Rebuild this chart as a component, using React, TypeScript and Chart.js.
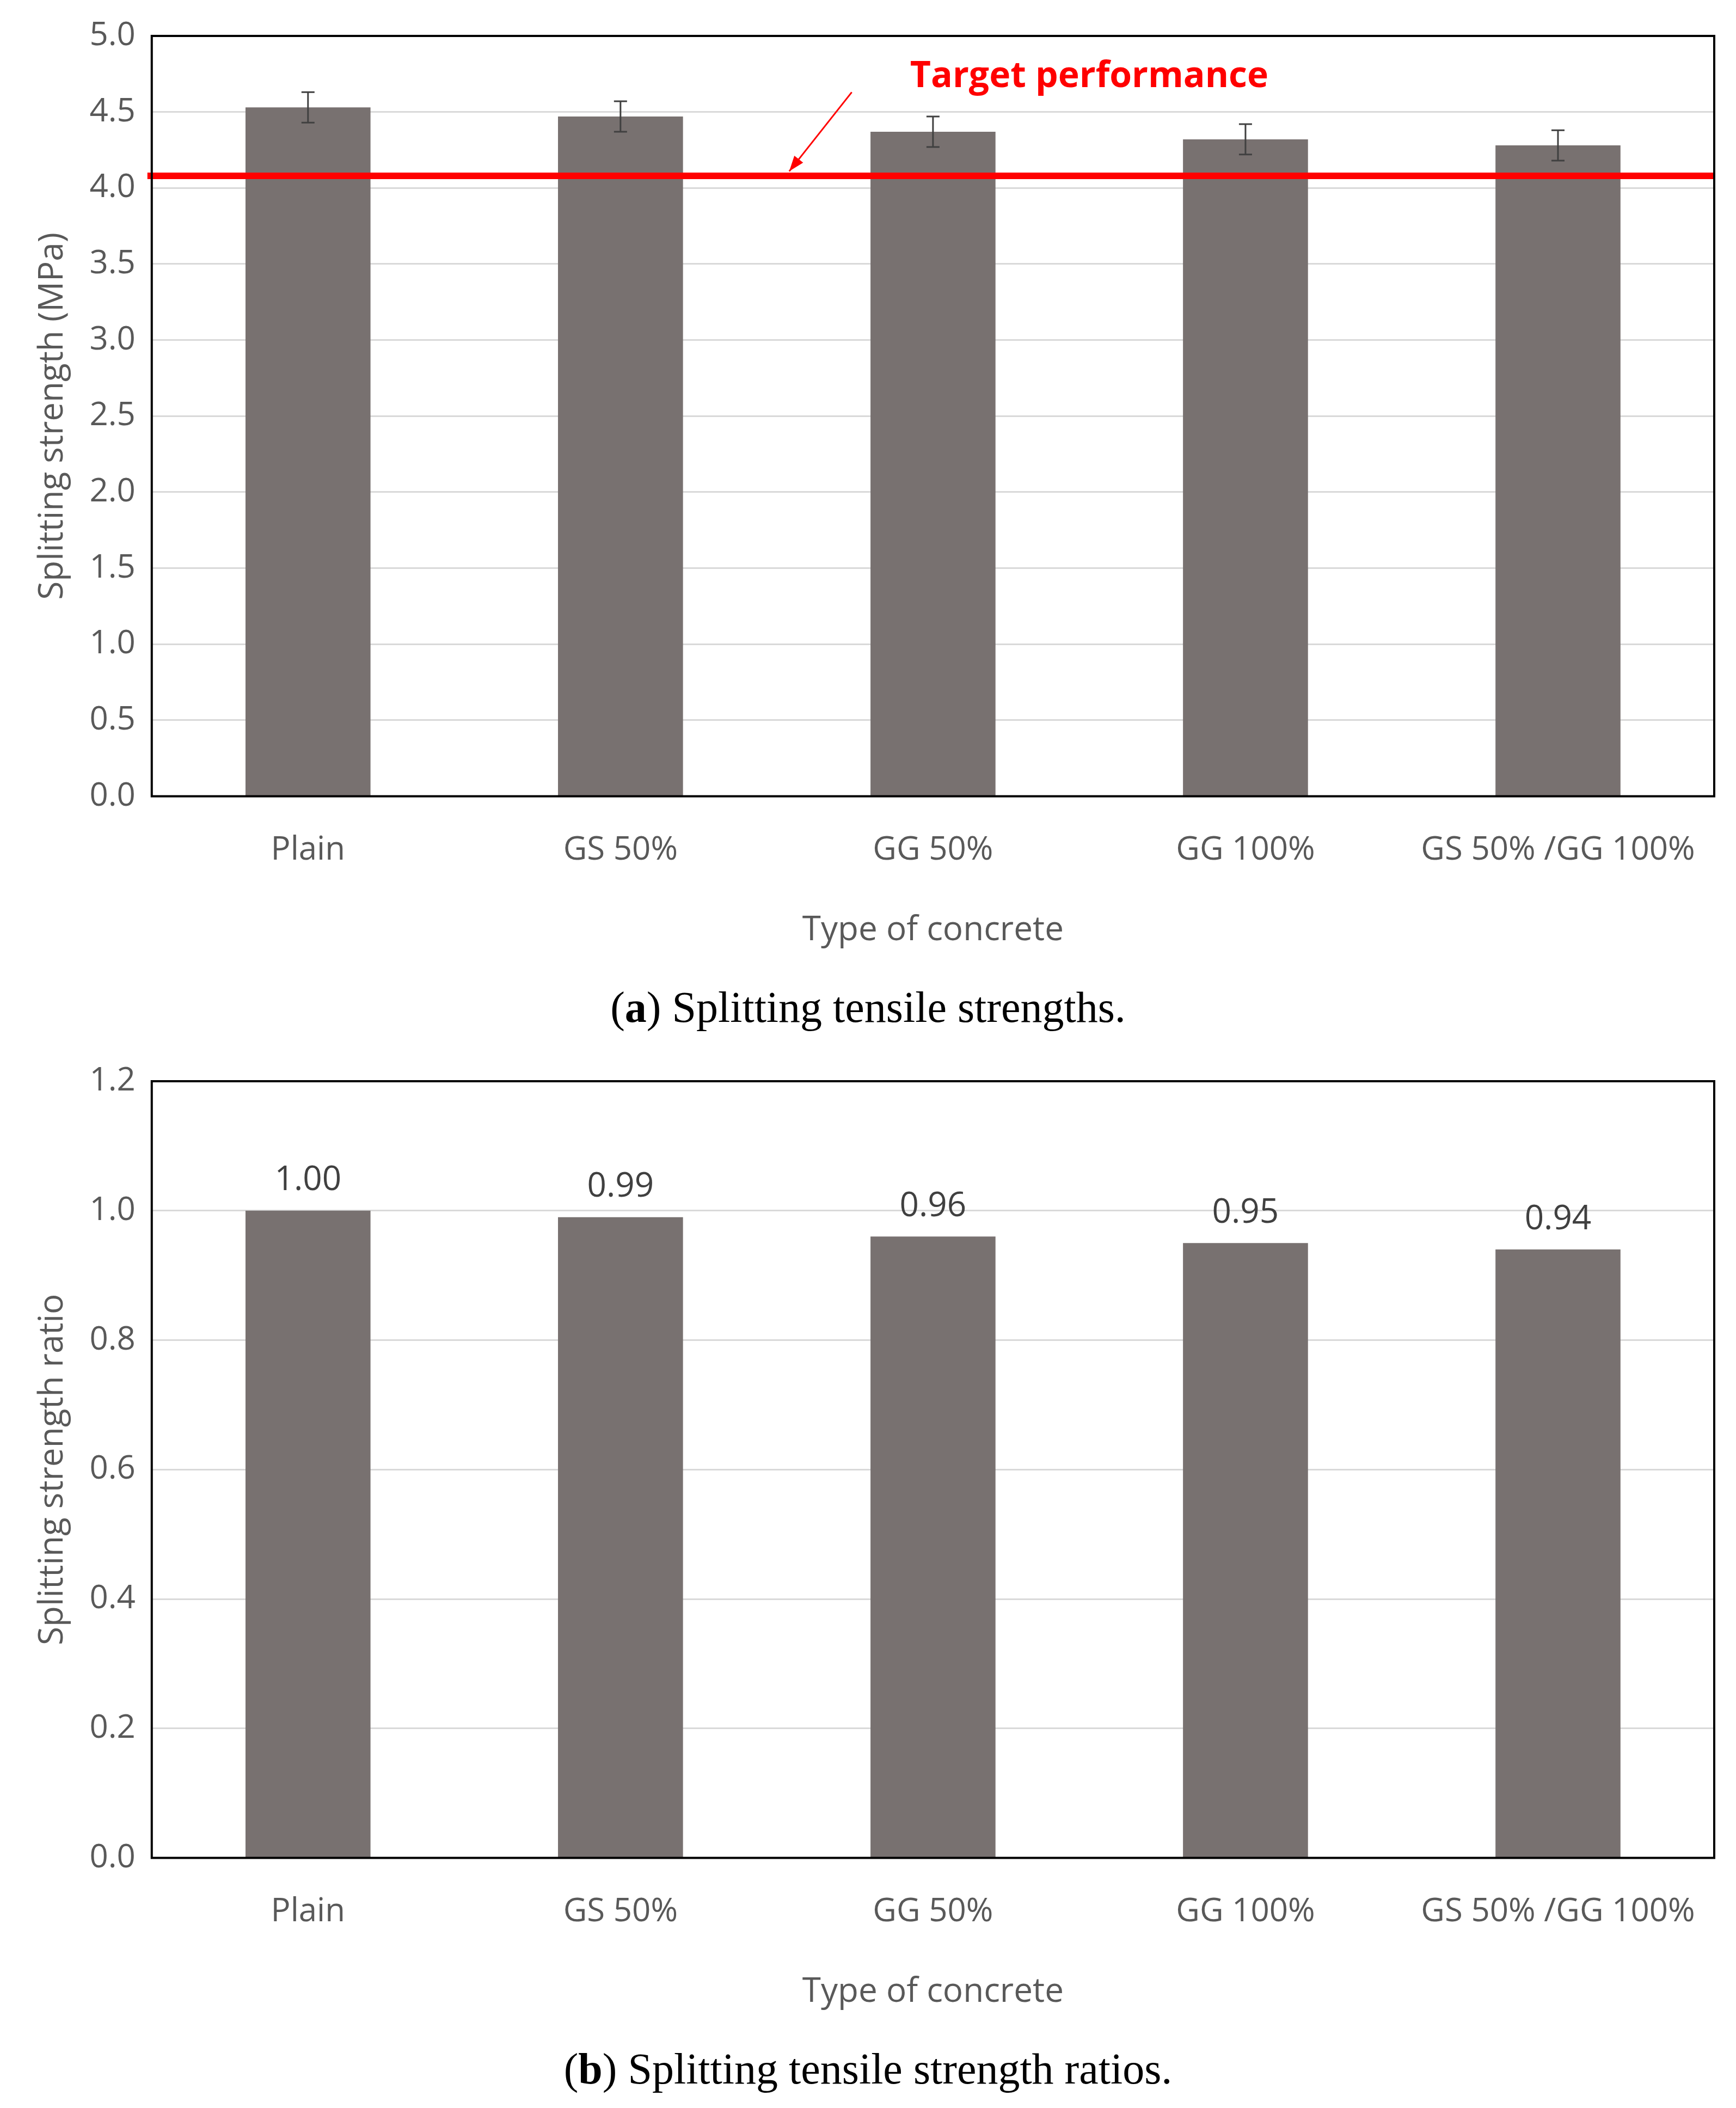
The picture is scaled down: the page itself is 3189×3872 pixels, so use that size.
import { useRef, useEffect } from "react"
import { Chart, registerables } from "chart.js"

Chart.register(...registerables)

// Data
const categories = ["Plain", "GS 50%", "GG 50%", "GG 100%", "GS 50% /GG 100%"]
const strength = [4.53, 4.47, 4.37, 4.32, 4.28]
const strengthError = [0.1, 0.1, 0.1, 0.1, 0.1]
const targetStrength = 4.08
const ratio = [1.0, 0.99, 0.96, 0.95, 0.94]
const ratioLabels = ["1.00", "0.99", "0.96", "0.95", "0.94"]

const FONT = "'Open Sans', 'Noto Sans', sans-serif"
const GREY = "#595959"
const BAR = "#787170"

// Plot frame
const framePlugin = {
  id: "frame",
  afterDraw(chart: any) {
    const { ctx, chartArea: a } = chart
    ctx.save()
    ctx.strokeStyle = "#000"
    ctx.lineWidth = 4
    ctx.strokeRect(a.left, a.top, a.right - a.left, a.bottom - a.top)
    ctx.restore()
  },
}

// Error bars + target line for chart (a)
const targetPlugin = {
  id: "target",
  afterDatasetsDraw(chart: any) {
    const { ctx, chartArea: a, scales } = chart
    const x = scales.x
    const y = scales.y
    ctx.save()
    ctx.strokeStyle = "#404040"
    ctx.lineWidth = 3
    strength.forEach((v, i) => {
      const px = x.getPixelForValue(i)
      const t = y.getPixelForValue(v + strengthError[i])
      const b = y.getPixelForValue(v - strengthError[i])
      ctx.beginPath()
      ctx.moveTo(px, t); ctx.lineTo(px, b)
      ctx.moveTo(px - 12, t); ctx.lineTo(px + 12, t)
      ctx.moveTo(px - 12, b); ctx.lineTo(px + 12, b)
      ctx.stroke()
    })
    // target line
    const ty = y.getPixelForValue(targetStrength)
    ctx.strokeStyle = "#ff0000"
    ctx.lineWidth = 12
    ctx.beginPath()
    ctx.moveTo(a.left - 8, ty); ctx.lineTo(a.right, ty)
    ctx.stroke()
    // arrow
    const step = x.getPixelForValue(1) - x.getPixelForValue(0)
    const sx = x.getPixelForValue(0) + step * 1.74
    const sy = y.getPixelForValue(4.63)
    const ex = x.getPixelForValue(0) + step * 1.54
    const ey = y.getPixelForValue(4.11)
    ctx.lineWidth = 3
    ctx.beginPath(); ctx.moveTo(sx, sy); ctx.lineTo(ex, ey); ctx.stroke()
    const ang = Math.atan2(ey - sy, ex - sx)
    ctx.fillStyle = "#ff0000"
    ctx.beginPath()
    ctx.moveTo(ex, ey)
    ctx.lineTo(ex - 30 * Math.cos(ang - 0.35), ey - 30 * Math.sin(ang - 0.35))
    ctx.lineTo(ex - 30 * Math.cos(ang + 0.35), ey - 30 * Math.sin(ang + 0.35))
    ctx.closePath(); ctx.fill()
    // text
    ctx.font = `bold 66px ${FONT}`
    ctx.textAlign = "center"
    ctx.textBaseline = "middle"
    ctx.fillText("Target performance", x.getPixelForValue(2.5), y.getPixelForValue(4.73))
    ctx.restore()
  },
}

// Value labels for chart (b)
const labelPlugin = {
  id: "valueLabels",
  afterDatasetsDraw(chart: any) {
    const { ctx, scales } = chart
    ctx.save()
    ctx.fillStyle = "#404040"
    ctx.font = `62px ${FONT}`
    ctx.textAlign = "center"
    ctx.textBaseline = "bottom"
    ratio.forEach((v, i) => {
      ctx.fillText(ratioLabels[i], scales.x.getPixelForValue(i), scales.y.getPixelForValue(v) - 24)
    })
    ctx.restore()
  },
}

function makeOptions(yTitle: string, max: number, step: number, top: number, decimals: number) {
  return {
    responsive: false,
    animation: false as const,
    layout: { padding: { top, right: 40, left: 60, bottom: 33 } },
    plugins: { legend: { display: false }, tooltip: { enabled: false } },
    scales: {
      x: {
        grid: { display: false },
        border: { display: false },
        ticks: { color: GREY, font: { family: FONT, size: 60 }, padding: 55 },
        title: { display: true, text: "Type of concrete", color: GREY, font: { family: FONT, size: 62 }, padding: { top: 20, bottom: 0 } },
      },
      y: {
        min: 0,
        max,
        grid: { color: "#d9d9d9", lineWidth: 3, drawTicks: false },
        border: { display: false },
        ticks: {
          stepSize: step,
          color: GREY,
          font: { family: FONT, size: 60 },
          padding: 30,
          callback: (v: any) => Number(v).toFixed(decimals),
        },
        title: { display: true, text: yTitle, color: GREY, font: { family: FONT, size: 62 }, padding: 0 },
      },
    },
  }
}

function BarPanel({ data, yTitle, max, step, top, plugins, height }: any) {
  const chartRef = useRef<HTMLCanvasElement>(null)
  const chartInstance = useRef<Chart | null>(null)

  useEffect(() => {
    if (!chartRef.current) return
    if (chartInstance.current) chartInstance.current.destroy()
    chartInstance.current = new Chart(chartRef.current, {
      type: "bar",
      data: {
        labels: categories,
        datasets: [{ data, backgroundColor: BAR, barPercentage: 0.4, categoryPercentage: 1 }],
      },
      options: makeOptions(yTitle, max, step, top, 1) as any,
      plugins: [framePlugin, ...plugins],
    })
    return () => {
      if (chartInstance.current) chartInstance.current.destroy()
    }
  }, [])

  return <canvas ref={chartRef} width={3189} height={height} style={{ display: "block" }} />
}

const captionStyle: any = {
  fontFamily: "'Liberation Serif', 'DejaVu Serif', serif",
  fontSize: 80,
  textAlign: "center",
  color: "#000",
  height: 140,
  lineHeight: "140px",
}

export default function App() {
  useEffect(() => {
    document.body.style.margin = "0"
  }, [])
  return (
    <div style={{ width: 3189, height: 3872, background: "#fff", overflow: "hidden" }}>
      <BarPanel data={strength} yTitle="Splitting strength (MPa)" max={5} step={0.5} top={25} plugins={[targetPlugin]} height={1780} />
      <div style={captionStyle}>(<b>a</b>) Splitting tensile strengths.</div>
      <BarPanel data={ratio} yTitle="Splitting strength ratio" max={1.2} step={0.2} top={25} plugins={[labelPlugin]} height={1810} />
      <div style={captionStyle}>(<b>b</b>) Splitting tensile strength ratios.</div>
    </div>
  )
}
